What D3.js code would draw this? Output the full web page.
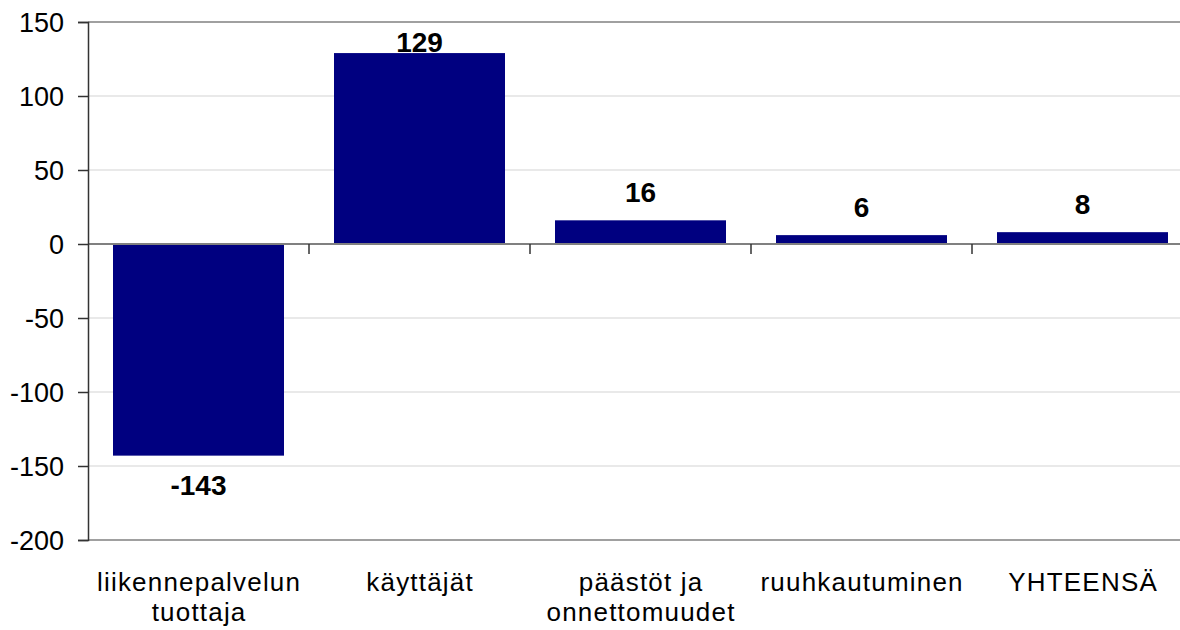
<!DOCTYPE html>
<html><head><meta charset="utf-8">
<script src="https://cdn.jsdelivr.net/npm/d3@7"></script>
<style>html,body{margin:0;padding:0;background:#fff;overflow:hidden}</style>
</head><body>
<svg id="c" width="1180" height="630"></svg>
<script>
const categories = [["liikennepalvelun","tuottaja"],["käyttäjät"],["päästöt ja","onnettomuudet"],["ruuhkautuminen"],["YHTEENSÄ"]];
const values = [-143, 129, 16, 6, 8];
const yTicks = [150, 100, 50, 0, -50, -100, -150, -200];

(function(){
const svg = d3.select("#c");
const mLeft = 88, mTop = 22, mBottom = 540, bandW = 221;
const x = d3.scaleBand().domain(d3.range(categories.length)).range([mLeft, mLeft + bandW*categories.length]).paddingInner(50/221).paddingOuter(25/221);
const y = d3.scaleLinear().domain([-200, 150]).range([mBottom, mTop]);
const mRight = mLeft + bandW*categories.length;
const font = "'Liberation Sans', Arial, sans-serif";

// gridlines
svg.append("g").selectAll("line").data(yTicks).join("line")
  .attr("x1", mLeft).attr("x2", mRight)
  .attr("y1", d => y(d)).attr("y2", d => y(d))
  .attr("stroke", d => (d === 150 || d === -200) ? "#a0a0a0" : (d === 0 ? "#808080" : "#d4d4d4"))
  .attr("stroke-width", d => (d === 150 || d === -200 || d === 0) ? 2 : 1.2);

// bars
svg.append("g").selectAll("rect").data(values).join("rect")
  .attr("x", (d,i) => x(i)).attr("width", x.bandwidth())
  .attr("y", d => y(Math.max(0, d))).attr("height", d => Math.abs(y(d) - y(0)))
  .attr("fill", "#000080");

// zero line on top
svg.append("line").attr("x1", mLeft).attr("x2", mRight).attr("y1", y(0)).attr("y2", y(0))
  .attr("stroke", "#808080").attr("stroke-width", 2);

// category ticks
const bounds = d3.range(1, categories.length+1).map(i => mLeft + bandW*i);
svg.append("g").selectAll("line").data(bounds).join("line")
  .attr("x1", d => d).attr("x2", d => d).attr("y1", y(0)).attr("y2", y(0)+10)
  .attr("stroke", "#333").attr("stroke-width", 1.5);

// y axis
const yAxis = d3.axisLeft(y).tickValues(yTicks).tickSize(10).tickPadding(14).tickFormat(d => String(d));
const ga = svg.append("g").attr("transform", `translate(${mLeft},0)`).call(yAxis);
ga.select(".domain").attr("stroke", "#333").attr("stroke-width", 1.5);
ga.selectAll(".tick line").attr("stroke", "#333").attr("stroke-width", 1.5);
ga.selectAll(".tick text").attr("font-family", font).attr("font-size", 27).attr("fill", "#000").attr("dy", "0.36em");

// value labels
svg.append("g").selectAll("text").data(values).join("text")
  .attr("x", (d,i) => x(i) + x.bandwidth()/2)
  .attr("y", d => d >= 0 ? Math.max(y(d) - 18, y(150) + 30) : y(d) + 39)
  .attr("text-anchor", "middle").attr("font-family", font).attr("font-weight", "bold")
  .attr("font-size", 28).attr("fill", "#000").text(d => d);

// category labels
const cl = svg.append("g").selectAll("text").data(categories).join("text")
  .attr("x", (d,i) => x(i) + x.bandwidth()/2 + 0.6).attr("y", 591)
  .attr("text-anchor", "middle").attr("font-family", font).attr("font-size", 26)
  .attr("letter-spacing", "1.2px").attr("fill", "#000");
cl.selectAll("tspan").data(d => d).join("tspan")
  .attr("x", function(){ return this.parentNode.getAttribute("x"); })
  .attr("dy", (d,i) => i === 0 ? 0 : 30).text(d => d);
})();
</script>
</body></html>
